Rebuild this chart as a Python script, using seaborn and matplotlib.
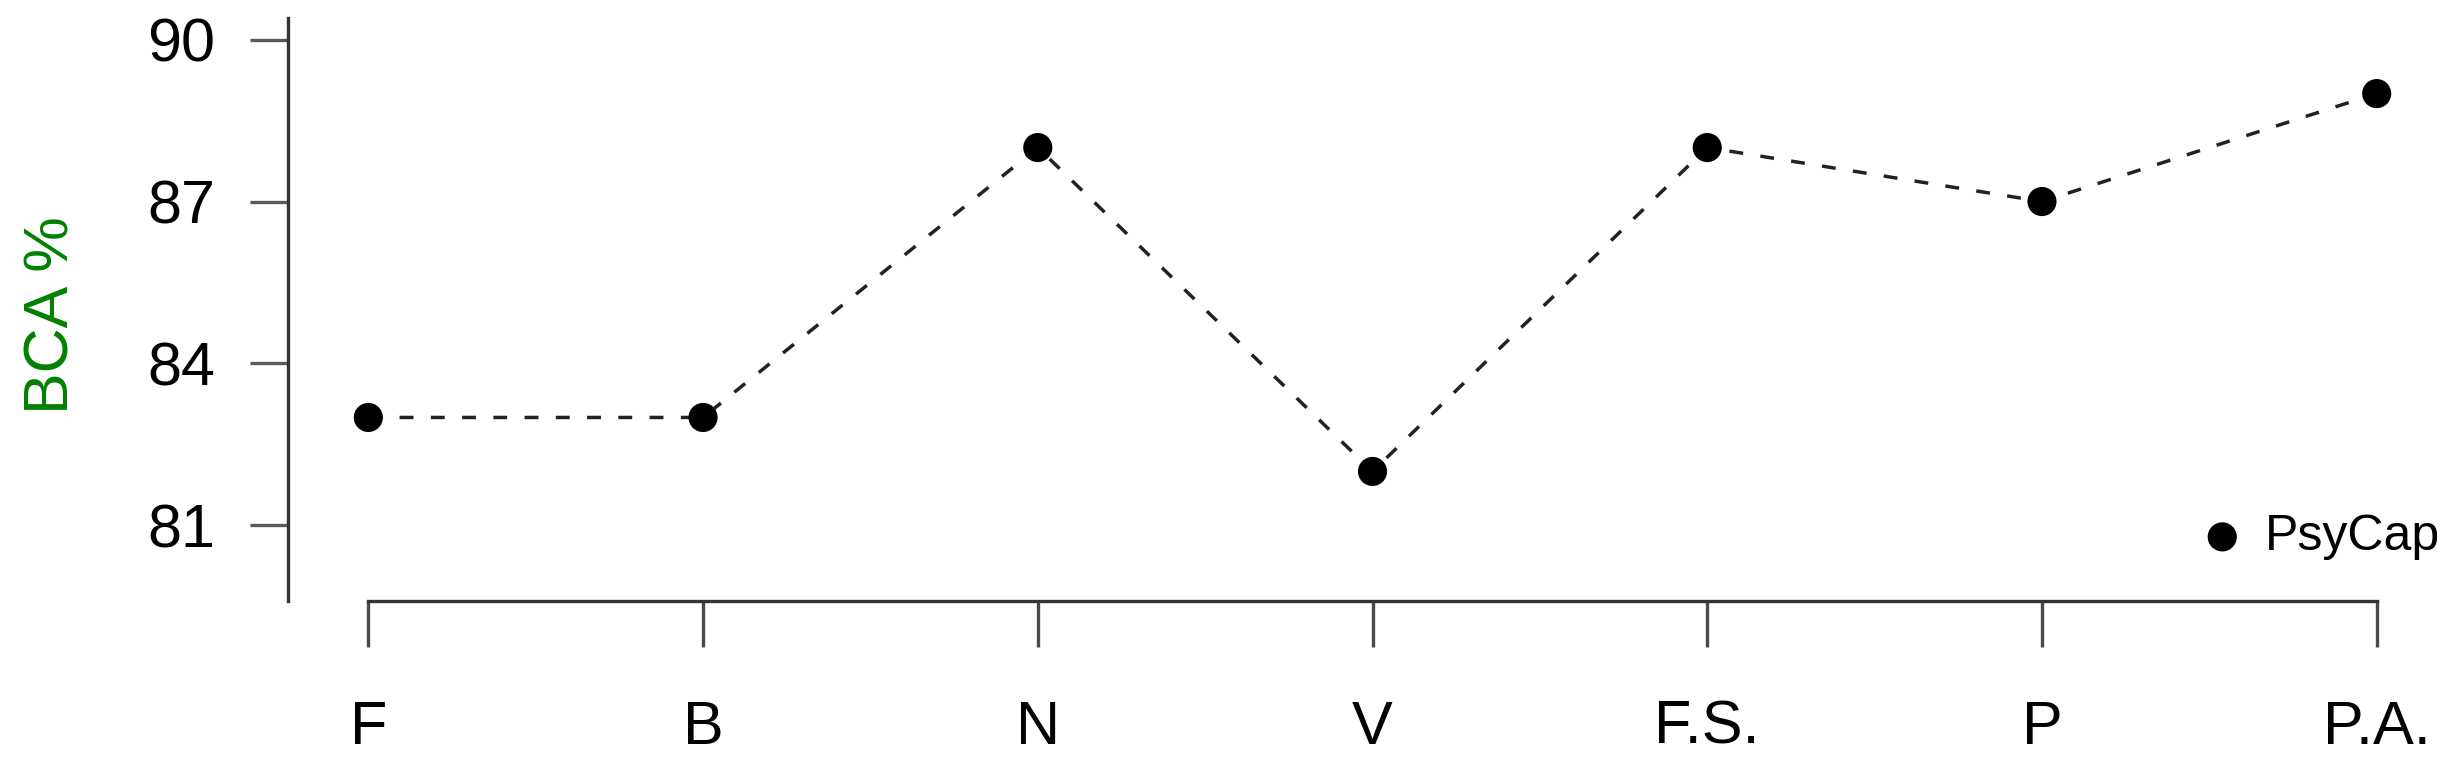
import matplotlib
matplotlib.use("Agg")
import matplotlib.pyplot as plt
import pandas as pd
import seaborn as sns

# values
categories = ["F", "B", "N", "V", "F.S.", "P", "P.A."]
bca = [83, 83, 88, 82, 88, 87, 89]
series_name = "PsyCap"
y_ticks = [81, 84, 87, 90]
y_label = "BCA %"

df = pd.DataFrame({"factor": categories, "bca": bca})

sns.set_style("ticks")
plt.rcParams["font.family"] = ["Liberation Sans", "DejaVu Sans"]
plt.rcParams["text.color"] = "black"
plt.rcParams["xtick.labelcolor"] = "black"
plt.rcParams["ytick.labelcolor"] = "black"

fig = plt.figure(figsize=(24.51, 7.80), dpi=100)
ax = fig.add_axes([288 / 2451, 1 - 601 / 780, 1 - 288 / 2451, (601 - 18) / 780])

sns.lineplot(data=df, x="factor", y="bca", sort=False, ax=ax, legend=False,
             color="#222222", linewidth=2.5, linestyle=(0, (4.0, 5.0)))
sns.scatterplot(data=df, x="factor", y="bca", ax=ax, color="black", s=440,
                edgecolor="none", label=series_name, zorder=3)

ax.set_xlim(-0.24, 6.222)
ax.set_ylim(79.6, 90.4)
ax.set_yticks(y_ticks)
ax.set_xticks(range(len(categories)))
ax.set_xticklabels(categories)
ax.set_xlabel("")
ax.set_ylabel(y_label, color="#008000", fontsize=45, va="center")
ax.yaxis.set_label_coords((52 - 288) / (2451 - 288), 0.49)

sns.despine(ax=ax)
ax.spines["bottom"].set_bounds(0, len(categories) - 1)
for side in ("left", "bottom"):
    ax.spines[side].set_color("#333333")
    ax.spines[side].set_linewidth(2.4)

ax.tick_params(axis="y", length=27.4, width=2.4, color="#5a5a5a",
               labelsize=44, pad=25)
ax.tick_params(axis="x", length=33, width=2.4, color="#4a4a4a",
               labelsize=44, pad=38)

leg = ax.legend(loc="center right", bbox_to_anchor=(2440 / 2451, 1 - 537 / 780),
                bbox_transform=fig.transFigure, frameon=False, fontsize=36,
                handlelength=0.8, handletextpad=0.45, borderpad=0,
                borderaxespad=0)

fig.savefig("out.png", dpi=100)
